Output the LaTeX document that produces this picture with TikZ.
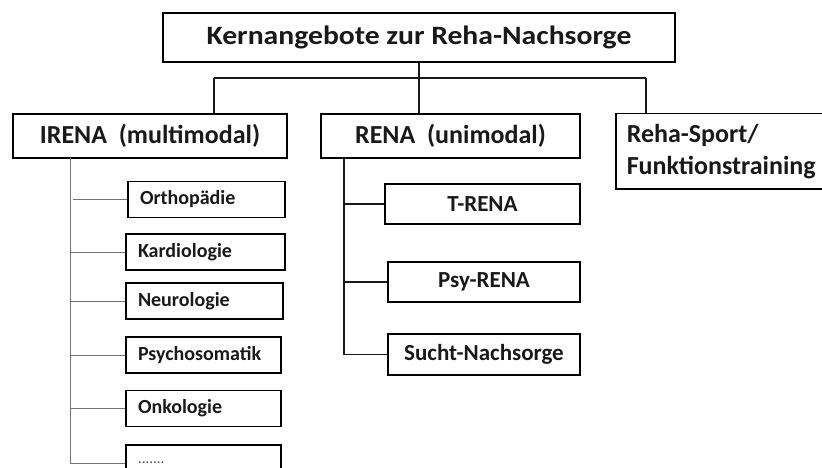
\documentclass[tikz,border=0pt]{standalone}
\usepackage{fontspec}
\setmainfont{Carlito}
\usepackage{tikz}
\usetikzlibrary{positioning}
\tikzset{
  kasten/.style={draw=black,line width=1.5pt,text=black!90,inner sep=0pt,align=center},
  haupt/.style={kasten,font=\bfseries\fontsize{26}{32}\selectfont},
  irenak/.style={kasten,line width=1.3pt,minimum width=157pt,minimum height=36pt,text width=133pt,align=left,font=\bfseries\fontsize{20}{24}\selectfont},
  renak/.style={kasten,minimum width=194pt,minimum height=40pt,font=\bfseries\fontsize{23}{27}\selectfont},
  linie/.style={draw=black!90,line width=1.2pt},
  grau/.style={draw=black!55,line width=1pt}
}
\begin{document}
\begin{tikzpicture}[x=1pt,y=-1pt]
\useasboundingbox (0,0) rectangle (822,468);
\node[haupt,minimum width=512pt,minimum height=49pt,font=\bfseries\fontsize{26.5}{32}\selectfont] (titel) at (419,37.5) {\scalebox{1.12}[1]{Kernangebote zur Reha-Nachsorge}};
\node[haupt,minimum width=274pt,minimum height=44pt] (irena) at (150,136) {IRENA\ \ (multimodal)};
\node[haupt,minimum width=259pt,minimum height=44pt] (rena) at (450.5,136) {RENA\ \ (unimodal)};
\node[haupt,anchor=north west,minimum width=220pt,minimum height=75pt,text width=198pt,align=left] (reha) at (615,113) {Reha-Sport/\\Funktionstraining};
\node[irenak] (ortho) at (206.5,199.5) {Orthopädie};
\node[irenak,minimum width=159pt,text width=135pt] (kardio) at (205.5,252) {Kardiologie};
\node[irenak] (neuro) at (204.5,301) {Neurologie};
\node[irenak,minimum width=155pt,text width=131pt] (psycho) at (203.5,355) {Psychosomatik};
\node[irenak,minimum width=155pt,text width=131pt] (onko) at (203.5,408.5) {Onkologie};
\node[irenak,minimum width=155pt,text width=131pt,font=\fontsize{15}{18}\selectfont,text=black!70] (punkte) at (203.5,463) {.......};
\node[renak,minimum width=195pt] (trena) at (482.5,204) {T-RENA};
\node[renak,minimum width=192pt] (psyrena) at (484,282) {Psy-RENA};
\node[renak,minimum width=192pt,minimum height=41pt] (sucht) at (484,354.5) {Sucht-Nachsorge};
\coordinate (hl) at (214,78);
\coordinate (hr) at (646,78);
\draw[linie] (titel.south) -- (titel.south |- rena.north);
\draw[linie] (hl) -- (hr);
\draw[linie] (hl) -- (hl |- irena.north);
\draw[linie,line width=1.8pt] (hr) -- (hr |- reha.north);
\coordinate (ioben) at (70,158);
\draw[grau] (ioben) |- (punkte.west);
\draw[grau] ([xshift=3pt]ioben |- ortho.west) -- (ortho.west);
\foreach \k in {kardio,neuro,psycho,onko}
  \draw[grau] (ioben |- \k.west) -- (\k.west);
\coordinate (roben) at (344,158);
\draw[linie,line width=1.5pt] (roben) |- (sucht.west);
\foreach \k in {trena,psyrena}
  \draw[linie,line width=1.5pt] (roben |- \k.west) -- (\k.west);
\end{tikzpicture}
\end{document}
